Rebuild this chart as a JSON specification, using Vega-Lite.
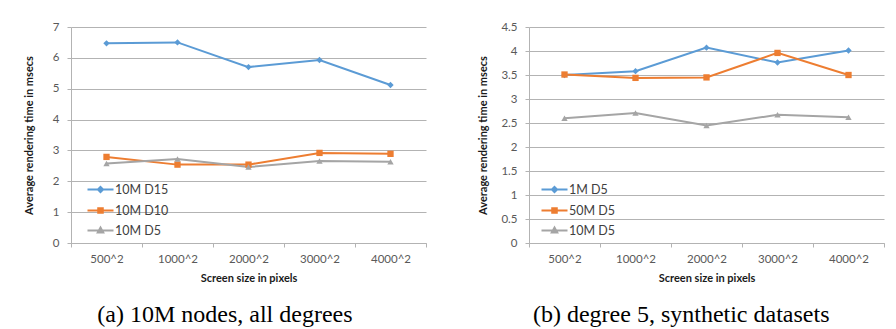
{
  "$schema": "https://vega.github.io/schema/vega-lite/v6.json",
  "background": "white",
  "padding": {"left": 23, "top": 21, "right": 5, "bottom": 3},
  "spacing": 50,
  "datasets": {
    "a": [
      {"size": "500^2", "time": 6.47, "series": "10M D15"},
      {"size": "1000^2", "time": 6.5, "series": "10M D15"},
      {"size": "2000^2", "time": 5.7, "series": "10M D15"},
      {"size": "3000^2", "time": 5.93, "series": "10M D15"},
      {"size": "4000^2", "time": 5.12, "series": "10M D15"},
      {"size": "500^2", "time": 2.79, "series": "10M D10"},
      {"size": "1000^2", "time": 2.54, "series": "10M D10"},
      {"size": "2000^2", "time": 2.54, "series": "10M D10"},
      {"size": "3000^2", "time": 2.92, "series": "10M D10"},
      {"size": "4000^2", "time": 2.89, "series": "10M D10"},
      {"size": "500^2", "time": 2.58, "series": "10M D5"},
      {"size": "1000^2", "time": 2.72, "series": "10M D5"},
      {"size": "2000^2", "time": 2.46, "series": "10M D5"},
      {"size": "3000^2", "time": 2.66, "series": "10M D5"},
      {"size": "4000^2", "time": 2.63, "series": "10M D5"}
    ],
    "b": [
      {"size": "500^2", "time": 3.5, "series": "1M D5"},
      {"size": "1000^2", "time": 3.58, "series": "1M D5"},
      {"size": "2000^2", "time": 4.07, "series": "1M D5"},
      {"size": "3000^2", "time": 3.76, "series": "1M D5"},
      {"size": "4000^2", "time": 4.01, "series": "1M D5"},
      {"size": "500^2", "time": 3.51, "series": "50M D5"},
      {"size": "1000^2", "time": 3.44, "series": "50M D5"},
      {"size": "2000^2", "time": 3.45, "series": "50M D5"},
      {"size": "3000^2", "time": 3.96, "series": "50M D5"},
      {"size": "4000^2", "time": 3.5, "series": "50M D5"},
      {"size": "500^2", "time": 2.6, "series": "10M D5"},
      {"size": "1000^2", "time": 2.71, "series": "10M D5"},
      {"size": "2000^2", "time": 2.45, "series": "10M D5"},
      {"size": "3000^2", "time": 2.67, "series": "10M D5"},
      {"size": "4000^2", "time": 2.62, "series": "10M D5"}
    ]
  },
  "config": {
    "view": {"stroke": null},
    "font": "Lato",
    "axis": {
      "labelFont": "Lato",
      "labelFontSize": 11.5,
      "labelColor": "#595959",
      "titleFont": "Lato",
      "titleFontSize": 11,
      "titleFontWeight": "bold",
      "titleColor": "#1a1a1a",
      "gridColor": "#b3b3b3",
      "domainColor": "#b3b3b3",
      "tickColor": "#b3b3b3",
      "tickSize": 4
    },
    "legend": {
      "labelFont": "Lato",
      "labelFontSize": 12.5,
      "labelColor": "#404040",
      "padding": 0
    },
    "title": {
      "font": "Liberation Serif",
      "fontSize": 24,
      "fontWeight": "normal",
      "color": "#000000",
      "orient": "bottom",
      "anchor": "middle",
      "frame": "bounds",
      "offset": 19
    }
  },
  "hconcat": [
    {
      "width": 355,
      "height": 216,
      "title": {"text": "(a) 10M nodes, all degrees"},
      "data": {"name": "a"},
      "encoding": {
        "x": {
          "field": "size", "type": "nominal", "sort": null,
          "title": "Screen size in pixels",
          "axis": {"labelAngle": 0, "tickBand": "extent", "labelPadding": 6, "titlePadding": 8, "grid": false}
        },
        "y": {
          "field": "time", "type": "quantitative",
          "scale": {"domain": [0, 7]},
          "title": "Average rendering time in msecs",
          "axis": {"values": [0, 1, 2, 3, 4, 5, 6, 7], "labelPadding": 8, "titlePadding": 18, "domain": true}
        },
        "color": {
          "field": "series", "type": "nominal",
          "scale": {"domain": ["10M D15", "10M D10", "10M D5"], "range": ["#5b9bd5", "#ed7d31", "#a5a5a5"]},
          "legend": {
            "title": null, "orient": "none", "legendX": 22, "legendY": 155,
            "symbolSize": 169, "labelOffset": 7, "rowPadding": 6,
            "encode": {
              "symbols": {
                "update": {
                  "shape": {"signal": "datum.value === '10M D15' ? 'M-2,0H2M0,-0.4L0.4,0L0,0.4L-0.4,0Z' : datum.value === '10M D10' ? 'M-2,0H2M-0.35,-0.35H0.35V0.35H-0.35Z' : 'M-2,0H2M0,-0.45L0.42,0.3H-0.42Z'"},
                  "strokeWidth": {"value": 2},
                  "opacity": {"value": 1}
                }
              }
            }
          }
        }
      },
      "layer": [
        {"mark": {"type": "line", "strokeWidth": 2}},
        {
          "transform": [{"filter": "datum.series === '10M D15'"}],
          "mark": {"type": "point", "filled": true, "opacity": 1, "shape": "diamond", "size": 40}
        },
        {
          "transform": [{"filter": "datum.series === '10M D10'"}],
          "mark": {"type": "point", "filled": true, "opacity": 1, "shape": "square", "size": 40}
        },
        {
          "transform": [{"filter": "datum.series === '10M D5'"}],
          "mark": {"type": "point", "filled": true, "opacity": 1, "shape": "triangle-up", "size": 40}
        }
      ]
    },
    {
      "width": 355,
      "height": 216,
      "title": {"text": "(b) degree 5, synthetic datasets"},
      "data": {"name": "b"},
      "encoding": {
        "x": {
          "field": "size", "type": "nominal", "sort": null,
          "title": "Screen size in pixels",
          "axis": {"labelAngle": 0, "tickBand": "extent", "labelPadding": 6, "titlePadding": 8, "grid": false}
        },
        "y": {
          "field": "time", "type": "quantitative",
          "scale": {"domain": [0, 4.5]},
          "title": "Average rendering time in msecs",
          "axis": {"values": [0, 0.5, 1, 1.5, 2, 2.5, 3, 3.5, 4, 4.5], "format": "~g", "labelPadding": 8, "titlePadding": 12, "domain": true}
        },
        "color": {
          "field": "series", "type": "nominal",
          "scale": {"domain": ["1M D5", "50M D5", "10M D5"], "range": ["#5b9bd5", "#ed7d31", "#a5a5a5"]},
          "legend": {
            "title": null, "orient": "none", "legendX": 18, "legendY": 155,
            "symbolSize": 169, "labelOffset": 7, "rowPadding": 6,
            "encode": {
              "symbols": {
                "update": {
                  "shape": {"signal": "datum.value === '1M D5' ? 'M-2,0H2M0,-0.4L0.4,0L0,0.4L-0.4,0Z' : datum.value === '50M D5' ? 'M-2,0H2M-0.35,-0.35H0.35V0.35H-0.35Z' : 'M-2,0H2M0,-0.45L0.42,0.3H-0.42Z'"},
                  "strokeWidth": {"value": 2},
                  "opacity": {"value": 1}
                }
              }
            }
          }
        }
      },
      "layer": [
        {"mark": {"type": "line", "strokeWidth": 2}},
        {
          "transform": [{"filter": "datum.series === '1M D5'"}],
          "mark": {"type": "point", "filled": true, "opacity": 1, "shape": "diamond", "size": 40}
        },
        {
          "transform": [{"filter": "datum.series === '50M D5'"}],
          "mark": {"type": "point", "filled": true, "opacity": 1, "shape": "square", "size": 40}
        },
        {
          "transform": [{"filter": "datum.series === '10M D5'"}],
          "mark": {"type": "point", "filled": true, "opacity": 1, "shape": "triangle-up", "size": 40}
        }
      ]
    }
  ],
  "resolve": {"scale": {"color": "independent", "y": "independent"}}
}
